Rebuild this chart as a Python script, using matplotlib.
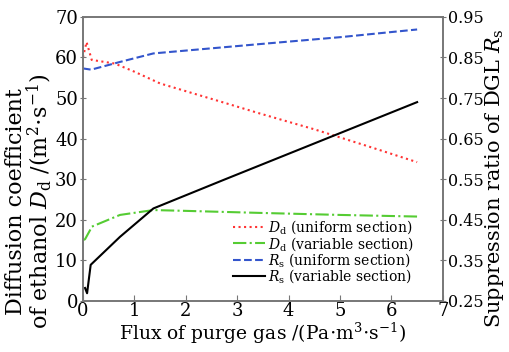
import matplotlib.pyplot as plt

plt.rcParams['font.family'] = 'DejaVu Serif'
plt.rcParams['mathtext.fontset'] = 'dejavuserif'

# D_d, uniform section (left axis)
x_dd_uni = [0.0, 0.07, 0.17, 0.62, 1.0, 1.5, 2.5, 3.44, 4.5, 5.5, 6.5]
dd_uni = [60.0, 63.8, 59.4, 58.5, 56.5, 53.6, 49.8, 46.2, 42.3, 38.3, 34.2]
# D_d, variable section (left axis)
x_dd_var = [0.0, 0.04, 0.14, 0.17, 0.72, 1.37, 2.0, 3.44, 5.0, 6.5]
dd_var = [15.0, 15.2, 17.5, 18.3, 21.2, 22.4, 22.2, 21.7, 21.2, 20.8]
# R_s, uniform section (right axis)
x_rs_uni = [0.0, 0.16, 0.72, 1.37, 3.44, 5.0, 6.5]
rs_uni = [0.823, 0.820, 0.839, 0.860, 0.883, 0.900, 0.919]
# R_s, variable section (right axis)
x_rs_var = [0.04, 0.08, 0.15, 0.72, 1.37, 2.73, 6.5]
rs_var = [0.282, 0.269, 0.339, 0.408, 0.478, 0.548, 0.740]

fig = plt.figure(figsize=(5.09, 3.52), dpi=100)
ax = fig.add_axes([0.163, 0.145, 0.707, 0.807])
ax2 = ax.twinx()

l1, = ax.plot(x_dd_uni, dd_uni, color='#ff3333', linestyle=':', lw=1.5)
l2, = ax.plot(x_dd_var, dd_var, color='#55cc33', linestyle='-.', lw=1.5)
l3, = ax2.plot(x_rs_uni, rs_uni, color='#3355cc', linestyle='--', lw=1.5)
l4, = ax2.plot(x_rs_var, rs_var, color='black', linestyle='-', lw=1.5)

ax.set_xlim(0, 7)
ax.set_ylim(0, 70)
ax2.set_ylim(0.25, 0.95)
ax.set_xticks(range(8))
ax.set_yticks(range(0, 71, 10))
ax2.set_yticks([0.25, 0.35, 0.45, 0.55, 0.65, 0.75, 0.85, 0.95])
ax2.set_yticklabels(['0.25', '0.35', '0.45', '0.55', '0.65', '0.75', '0.85', '0.95'])

for a in (ax, ax2):
    for s in a.spines.values():
        s.set_color('#777777')
        s.set_linewidth(1.2)
ax.tick_params(axis='x', direction='in', length=4, color='#777777', labelsize=13, pad=1)
ax.tick_params(axis='y', direction='inout', length=5, color='#777777', labelsize=13, pad=1)
ax2.tick_params(axis='y', direction='inout', length=5, color='#777777', labelsize=11.5, pad=1)

ax.set_xlabel(r'Flux of purge gas /(Pa$\cdot$m$^3$$\cdot$s$^{-1}$)', fontsize=13.5, labelpad=0)
ax.set_ylabel('Diffusion coefficient\n' + r'of ethanol $D_\mathrm{d}$ /(m$^2$$\cdot$s$^{-1}$)',
              fontsize=16, linespacing=0.9)
ax.yaxis.set_label_coords(-0.08, 0.35)
ax2.set_ylabel(r'Suppression ratio of DGL $R_\mathrm{s}$', fontsize=15)
ax2.yaxis.set_label_coords(1.112, 0.432)

ax.legend([l1, l2, l3, l4],
          [r'$D_\mathrm{d}$ (uniform section)', r'$D_\mathrm{d}$ (variable section)',
           r'$R_\mathrm{s}$ (uniform section)', r'$R_\mathrm{s}$ (variable section)'],
          loc='lower right', bbox_to_anchor=(0.935, 0.035), frameon=False, fontsize=10,
          handlelength=2.3, handletextpad=0.2, labelspacing=-0.1, borderaxespad=0)

fig.savefig('out.png', dpi=100)
